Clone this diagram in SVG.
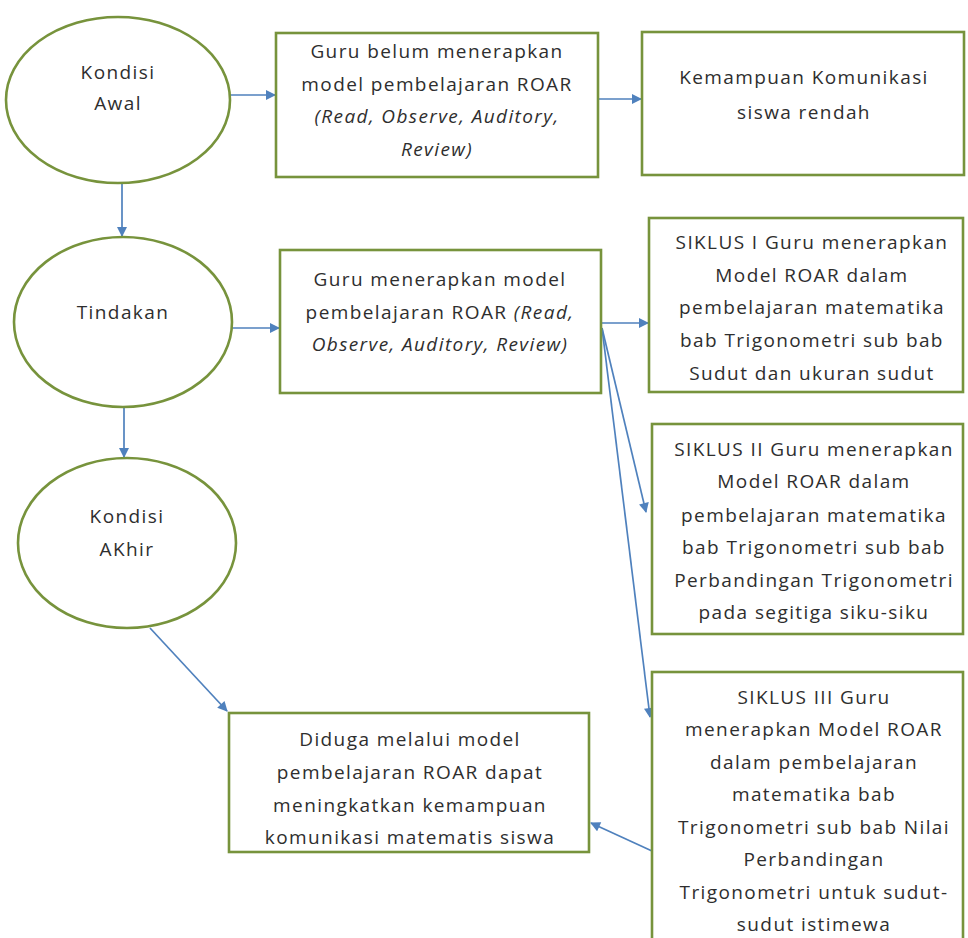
<svg xmlns="http://www.w3.org/2000/svg" width="968" height="938" viewBox="0 0 968 938">
<defs>
<marker id="ah" viewBox="0 0 10 10" refX="9" refY="5" markerWidth="11" markerHeight="10" markerUnits="userSpaceOnUse" orient="auto">
<path d="M0,0 L10,5 L0,10 Z" fill="#4F81BD"/>
</marker>
<style>
.nd{fill:#ffffff;stroke:#77933C;stroke-width:2.6}
.t{font-family:"Open Sans","Noto Sans",sans-serif;font-size:19px;fill:#2e2e2e;text-anchor:middle;letter-spacing:1.4px}
.i{font-style:italic}
.c{fill:none;stroke:#4F81BD;stroke-width:1.7;marker-end:url(#ah)}
</style>
</defs>
<rect width="968" height="938" fill="#ffffff"/>
<g id="connectors">
<line class="c" x1="230" y1="95" x2="275" y2="95"/>
<line class="c" x1="598" y1="99" x2="641" y2="99"/>
<line class="c" x1="122" y1="183" x2="122" y2="236"/>
<line class="c" x1="232" y1="328" x2="279" y2="328"/>
<line class="c" x1="601" y1="323" x2="648" y2="323"/>
<line class="c" x1="124" y1="407" x2="124" y2="457"/>
<line class="c" x1="602" y1="328" x2="646" y2="512"/>
<line class="c" x1="602" y1="328" x2="650" y2="717"/>
<line class="c" x1="150" y1="628" x2="227" y2="711"/>
<line class="c" x1="652" y1="851" x2="591" y2="823"/>
</g>
<g id="kondisi-awal">
<ellipse class="nd" cx="118" cy="100" rx="112" ry="83"/>
<text class="t" x="118" y="79">Kondisi</text>
<text class="t" x="118" y="110">Awal</text>
</g>
<g id="guru-belum">
<rect class="nd" x="276" y="33" width="322" height="144"/>
<text class="t" x="437" y="58">Guru belum menerapkan</text>
<text class="t" x="437" y="91">model pembelajaran ROAR</text>
<text class="t i" x="437" y="123">(Read, Observe, Auditory,</text>
<text class="t i" x="437" y="156">Review)</text>
</g>
<g id="kemampuan-rendah">
<rect class="nd" x="642" y="32" width="322" height="143"/>
<text class="t" x="804" y="84">Kemampuan Komunikasi</text>
<text class="t" x="804" y="119">siswa rendah</text>
</g>
<g id="tindakan">
<ellipse class="nd" cx="123" cy="322" rx="109" ry="85"/>
<text class="t" x="123" y="319">Tindakan</text>
</g>
<g id="guru-menerapkan">
<rect class="nd" x="280" y="250" width="321" height="143"/>
<text class="t" x="440" y="286">Guru menerapkan model</text>
<text class="t" x="440" y="319">pembelajaran ROAR <tspan class="i">(Read,</tspan></text>
<text class="t i" x="440" y="351">Observe, Auditory, Review)</text>
</g>
<g id="siklus-1">
<rect class="nd" x="649" y="218" width="314" height="174"/>
<text class="t" x="812" y="249">SIKLUS I Guru menerapkan</text>
<text class="t" x="812" y="282">Model ROAR dalam</text>
<text class="t" x="812" y="314">pembelajaran matematika</text>
<text class="t" x="812" y="347">bab Trigonometri sub bab</text>
<text class="t" x="812" y="380">Sudut dan ukuran sudut</text>
</g>
<g id="siklus-2">
<rect class="nd" x="652" y="424" width="311" height="210"/>
<text class="t" x="814" y="456">SIKLUS II Guru menerapkan</text>
<text class="t" x="814" y="488">Model ROAR dalam</text>
<text class="t" x="814" y="522">pembelajaran matematika</text>
<text class="t" x="814" y="554">bab Trigonometri sub bab</text>
<text class="t" x="814" y="587">Perbandingan Trigonometri</text>
<text class="t" x="814" y="619">pada segitiga siku-siku</text>
</g>
<g id="kondisi-akhir">
<ellipse class="nd" cx="127" cy="543" rx="109" ry="85"/>
<text class="t" x="127" y="523">Kondisi</text>
<text class="t" x="127" y="556">AKhir</text>
</g>
<g id="siklus-3">
<rect class="nd" x="652" y="672" width="311" height="290"/>
<text class="t" x="814" y="704">SIKLUS III Guru</text>
<text class="t" x="814" y="736">menerapkan Model ROAR</text>
<text class="t" x="814" y="769">dalam pembelajaran</text>
<text class="t" x="814" y="801">matematika bab</text>
<text class="t" x="814" y="834">Trigonometri sub bab Nilai</text>
<text class="t" x="814" y="866">Perbandingan</text>
<text class="t" x="814" y="899">Trigonometri untuk sudut-</text>
<text class="t" x="814" y="931">sudut istimewa</text>
</g>
<g id="diduga">
<rect class="nd" x="229" y="713" width="360" height="139"/>
<text class="t" x="410" y="746">Diduga melalui model</text>
<text class="t" x="410" y="779">pembelajaran ROAR dapat</text>
<text class="t" x="410" y="812">meningkatkan kemampuan</text>
<text class="t" x="410" y="844">komunikasi matematis siswa</text>
</g>
</svg>
